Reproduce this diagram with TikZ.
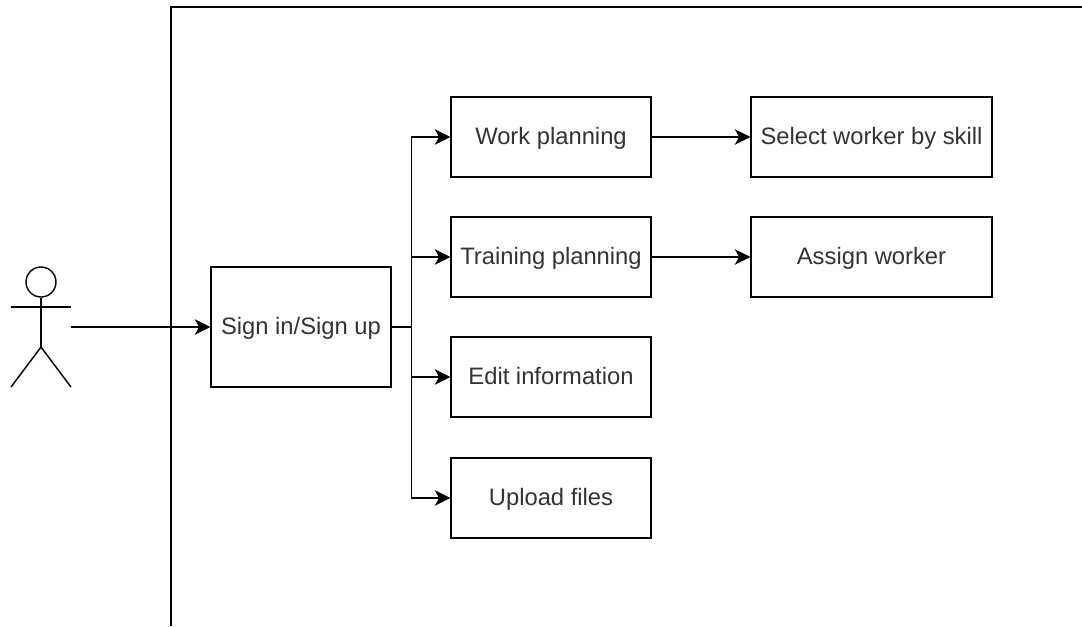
\documentclass[tikz,border=0pt]{standalone}
\usepackage{fontspec}
\setmainfont{Liberation Sans}
\usetikzlibrary{arrows.meta}
\usetikzlibrary{positioning}

\tikzset{
  boxnode/.style={draw, line width=1pt, minimum height=80*0.025cm, text=black!80, font=\fontsize{16.9}{19}\selectfont, inner sep=0pt, text height=13.5pt, text depth=3pt},
  link/.style={line width=1pt, -{Stealth[length=11pt,width=11pt,inset=3pt]}},
}

\begin{document}
\begin{tikzpicture}[x=0.025cm,y=-0.025cm]
\useasboundingbox (0,0) rectangle (1082,626);

% edge of the system
\path[draw,line width=1pt] (171,626) -- (171,7) -- (1082,7);

% actor
\node[circle, draw, line width=1pt, minimum size=30*0.025cm, inner sep=0pt] (head) at (41,282) {};
\coordinate (hip) at (41,347);
\coordinate (armL) at (11,307);
\coordinate (armR) at (71,307);
\coordinate (footL) at (11,387);
\coordinate (footR) at (71,387);
\coordinate (hand) at (71,327);
\draw[line width=1pt] (head.south) -- (hip);
\draw[line width=1pt] (armL) -- (armR);
\draw[line width=1pt] (footL) -- (hip) -- (footR);

\node[boxnode, minimum width=180*0.025cm, minimum height=120*0.025cm] (signin) at (301,327) {Sign in/Sign up};

\foreach \name/\y/\label in {work/137/Work planning,training/257/Training planning,edit/377/Edit information,upload/498/Upload files} {
    \node[boxnode, minimum width=200*0.025cm] (\name) at (551,\y) {\label};
    \draw[link] (signin.east) -- ++(20,0) |- (\name.west);
}

\node[boxnode, minimum width=241*0.025cm] (select) at (871.5,137) {Select worker by skill};
\node[boxnode, minimum width=241*0.025cm] (assign) at (871.5,257) {Assign worker};

\draw[link] (hand) -- (signin.west);
\draw[link] (work) -- (select);
\draw[link] (training) -- (assign);
\end{tikzpicture}
\end{document}
